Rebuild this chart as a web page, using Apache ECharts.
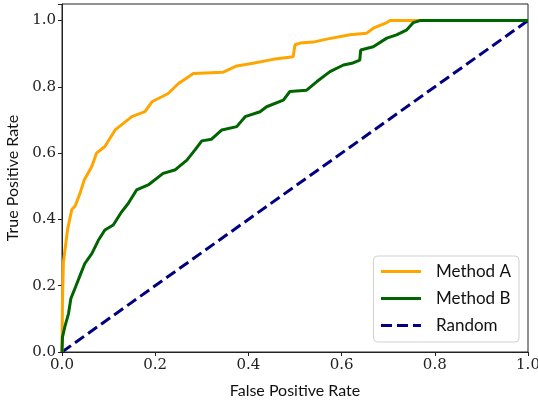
<!DOCTYPE html>
<html>
<head>
<meta charset="utf-8">
<script src="https://cdn.jsdelivr.net/npm/echarts@6/dist/echarts.min.js"></script>
<style>
  html, body { margin: 0; padding: 0; background: #fff; }
  #chart { width: 538px; height: 408px; }
</style>
</head>
<body>
<div id="chart"></div>
<script>
// ROC curves
var fprA = [0, 0.001, 0.003, 0.012, 0.021, 0.028, 0.039, 0.048, 0.064, 0.074, 0.092, 0.114, 0.15, 0.178, 0.193, 0.228, 0.25, 0.282, 0.345, 0.375, 0.41, 0.453, 0.496, 0.5, 0.511, 0.539, 0.568, 0.618, 0.654, 0.668, 0.697, 0.704, 1.0];
var tprA = [0, 0.15, 0.27, 0.37, 0.43, 0.44, 0.48, 0.52, 0.56, 0.60, 0.62, 0.67, 0.71, 0.725, 0.755, 0.78, 0.81, 0.84, 0.844, 0.863, 0.871, 0.883, 0.891, 0.927, 0.932, 0.935, 0.944, 0.957, 0.962, 0.977, 0.994, 1.0, 1.0];

var fprB = [0, 0.001, 0.006, 0.014, 0.019, 0.029, 0.039, 0.049, 0.064, 0.078, 0.092, 0.11, 0.128, 0.142, 0.16, 0.185, 0.217, 0.242, 0.268, 0.285, 0.30, 0.321, 0.343, 0.375, 0.393, 0.425, 0.439, 0.475, 0.489, 0.525, 0.547, 0.575, 0.604, 0.622, 0.639, 0.641, 0.668, 0.697, 0.718, 0.74, 0.754, 0.768, 1.0];
var tprB = [0, 0.045, 0.076, 0.116, 0.161, 0.196, 0.232, 0.267, 0.297, 0.337, 0.368, 0.383, 0.423, 0.448, 0.489, 0.504, 0.539, 0.549, 0.579, 0.609, 0.637, 0.642, 0.67, 0.68, 0.71, 0.725, 0.74, 0.76, 0.786, 0.79, 0.816, 0.846, 0.866, 0.871, 0.881, 0.911, 0.921, 0.947, 0.957, 0.972, 0.994, 1.0, 1.0];

var fprRandom = [0, 1];
var tprRandom = [0, 1];

var xTicks = ['0.0', '0.2', '0.4', '0.6', '0.8', '1.0'];

function pairs(xs, ys) {
    var out = [];
    for (var i = 0; i < xs.length; i++) {
        out.push([xs[i], ys[i]]);
    }
    return out;
}

var sansFont = 'Lato';
var serifFont = 'DejaVu Serif';

var myChart = echarts.init(document.getElementById('chart'), null, { renderer: 'canvas' });

var option = {
    animation: false,
    grid: {
        left: 62,
        right: 10,
        top: 4,
        bottom: 56,
        outerBoundsMode: 'none',
        containLabel: false,
        show: true,
        borderColor: '#222',
        borderWidth: 1
    },
    legend: {
        right: 19,
        bottom: 66,
        orient: 'vertical',
        itemWidth: 40,
        itemHeight: 14,
        itemGap: 10,
        padding: [7, 8, 8, 6],
        borderColor: '#d0d0d0',
        borderWidth: 1,
        borderRadius: 4,
        backgroundColor: '#fff',
        itemStyle: { opacity: 0 },
        lineStyle: { width: 3 },
        textStyle: { fontFamily: sansFont, fontSize: 17, color: '#111', padding: [0, 0, 0, 10] },
        data: ['Method A', 'Method B', 'Random']
    },
    xAxis: {
        type: 'value',
        min: 0,
        max: 1,
        interval: 0.2,
        name: 'False Positive Rate',
        nameLocation: 'middle',
        nameGap: 31,
        nameTextStyle: { fontFamily: sansFont, fontSize: 16, color: '#111' },
        axisLine: { lineStyle: { color: '#222' } },
        axisTick: { show: true, length: 4, lineStyle: { color: '#222' } },
        splitLine: { show: false },
        axisLabel: {
            fontFamily: serifFont, fontSize: 15, color: '#222', margin: 6,
            formatter: function (v) { return xTicks[Math.round(v / 0.2)]; }
        }
    },
    yAxis: {
        type: 'value',
        min: 0,
        max: 1.05,
        interval: 0.2,
        name: 'True Positive Rate',
        nameLocation: 'middle',
        nameGap: 37,
        nameTextStyle: { fontFamily: sansFont, fontSize: 16, color: '#111' },
        axisLine: { show: true, lineStyle: { color: '#222' } },
        axisTick: { show: true, length: 4, lineStyle: { color: '#222' } },
        splitLine: { show: false },
        axisLabel: {
            fontFamily: serifFont, fontSize: 15, color: '#222', margin: 6,
            formatter: function (v) { return v > 1.001 ? '' : v.toFixed(1); }
        }
    },
    series: [
        {
            name: 'Method A',
            type: 'line',
            symbol: 'none',
            z: 3,
            data: pairs(fprA, tprA),
            itemStyle: { color: '#FFA500' },
            lineStyle: { color: '#FFA500', width: 3 }
        },
        {
            name: 'Method B',
            type: 'line',
            symbol: 'none',
            z: 4,
            data: pairs(fprB, tprB),
            itemStyle: { color: '#006400' },
            lineStyle: { color: '#006400', width: 3 }
        },
        {
            name: 'Random',
            type: 'line',
            symbol: 'none',
            z: 2,
            data: pairs(fprRandom, tprRandom),
            itemStyle: { color: '#000080' },
            lineStyle: { color: '#000080', width: 3, type: [11, 5] }
        }
    ]
};

myChart.setOption(option);
window.addEventListener('resize', myChart.resize);
</script>
</body>
</html>
